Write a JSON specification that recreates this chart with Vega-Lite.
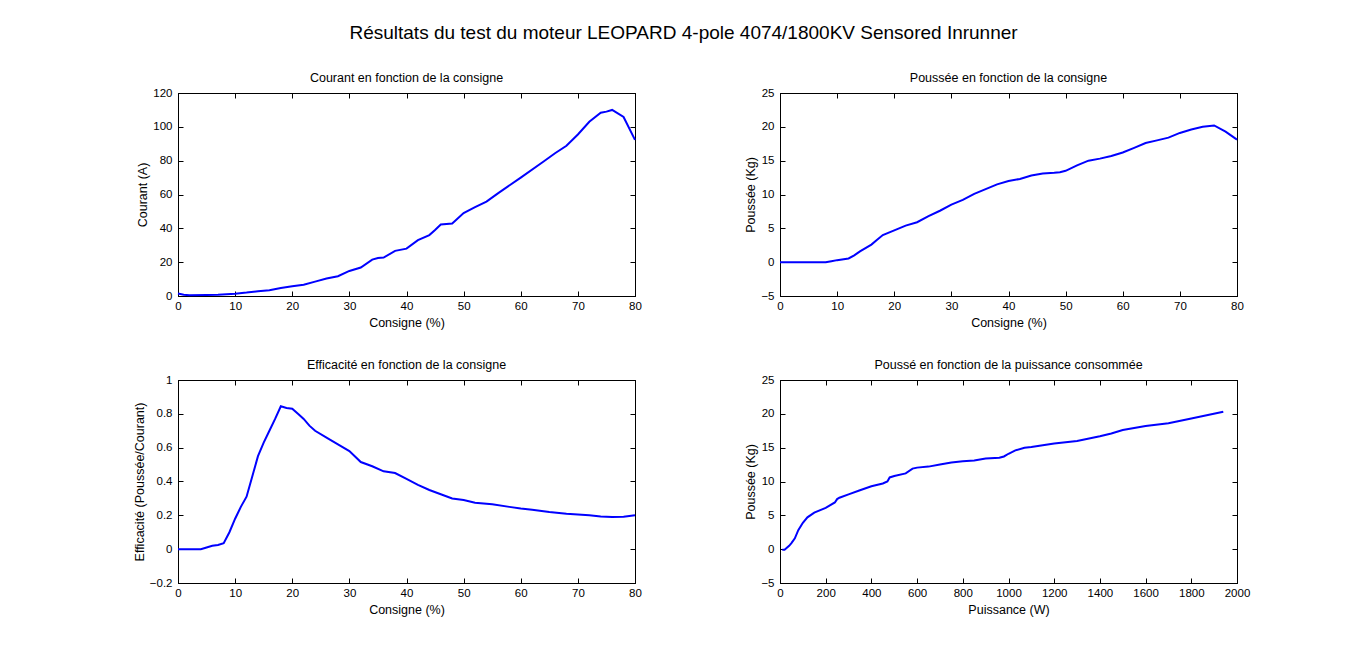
{
  "$schema": "https://vega.github.io/schema/vega-lite/v6.json",
  "background": "white",
  "padding": {"left": 132, "top": 24, "right": 5, "bottom": 5},
  "title": {
    "text": "Résultats du test du moteur LEOPARD 4-pole 4074/1800KV Sensored Inrunner",
    "fontSize": 19,
    "anchor": "middle",
    "dx": -8,
    "offset": 28
  },
  "bounds": "flush",
  "spacing": 287,
  "datasets": {
    "courant": [
      {"consigne": 0, "courant": 1.5}, {"consigne": 1, "courant": 0.7}, {"consigne": 2, "courant": 0.5},
      {"consigne": 5, "courant": 0.6}, {"consigne": 7, "courant": 0.8}, {"consigne": 10, "courant": 1.4},
      {"consigne": 12, "courant": 2}, {"consigne": 14, "courant": 2.8}, {"consigne": 16, "courant": 3.4},
      {"consigne": 18, "courant": 4.7}, {"consigne": 20, "courant": 5.7}, {"consigne": 22, "courant": 6.7},
      {"consigne": 24, "courant": 8.5}, {"consigne": 26, "courant": 10.3}, {"consigne": 28, "courant": 11.7},
      {"consigne": 30, "courant": 14.8}, {"consigne": 32, "courant": 16.8}, {"consigne": 34, "courant": 21.5},
      {"consigne": 35, "courant": 22.5}, {"consigne": 36, "courant": 22.7}, {"consigne": 38, "courant": 26.7},
      {"consigne": 40, "courant": 28}, {"consigne": 42, "courant": 33}, {"consigne": 44, "courant": 36},
      {"consigne": 45, "courant": 39}, {"consigne": 46, "courant": 42.3}, {"consigne": 48, "courant": 42.9},
      {"consigne": 50, "courant": 49}, {"consigne": 52, "courant": 52.5}, {"consigne": 54, "courant": 55.8},
      {"consigne": 56, "courant": 60.7}, {"consigne": 60, "courant": 70}, {"consigne": 64, "courant": 79.5},
      {"consigne": 66, "courant": 84.4}, {"consigne": 68, "courant": 88.8}, {"consigne": 70, "courant": 95.5},
      {"consigne": 72, "courant": 103}, {"consigne": 74, "courant": 108.3}, {"consigne": 75, "courant": 109},
      {"consigne": 76, "courant": 110}, {"consigne": 78, "courant": 105.8}, {"consigne": 80, "courant": 92.3}
    ],
    "poussee": [
      {"consigne": 0, "poussee": 0}, {"consigne": 8, "poussee": 0}, {"consigne": 9, "poussee": 0.15},
      {"consigne": 10, "poussee": 0.3}, {"consigne": 12, "poussee": 0.55}, {"consigne": 13, "poussee": 1},
      {"consigne": 14, "poussee": 1.6}, {"consigne": 16, "poussee": 2.6}, {"consigne": 17, "poussee": 3.3},
      {"consigne": 18, "poussee": 4}, {"consigne": 20, "poussee": 4.7}, {"consigne": 22, "poussee": 5.4},
      {"consigne": 24, "poussee": 5.9}, {"consigne": 26, "poussee": 6.8}, {"consigne": 28, "poussee": 7.6},
      {"consigne": 30, "poussee": 8.5}, {"consigne": 32, "poussee": 9.2}, {"consigne": 34, "poussee": 10.1},
      {"consigne": 36, "poussee": 10.8}, {"consigne": 38, "poussee": 11.5}, {"consigne": 40, "poussee": 12},
      {"consigne": 42, "poussee": 12.3}, {"consigne": 44, "poussee": 12.8}, {"consigne": 46, "poussee": 13.1},
      {"consigne": 48, "poussee": 13.2}, {"consigne": 49, "poussee": 13.3}, {"consigne": 50, "poussee": 13.5},
      {"consigne": 52, "poussee": 14.3}, {"consigne": 54, "poussee": 15}, {"consigne": 56, "poussee": 15.3},
      {"consigne": 58, "poussee": 15.7}, {"consigne": 60, "poussee": 16.2}, {"consigne": 62, "poussee": 16.9},
      {"consigne": 64, "poussee": 17.6}, {"consigne": 66, "poussee": 18}, {"consigne": 68, "poussee": 18.4},
      {"consigne": 70, "poussee": 19.1}, {"consigne": 72, "poussee": 19.6}, {"consigne": 74, "poussee": 20},
      {"consigne": 76, "poussee": 20.2}, {"consigne": 78, "poussee": 19.3}, {"consigne": 80, "poussee": 18.1}
    ],
    "efficacite": [
      {"consigne": 0, "efficacite": 0}, {"consigne": 4, "efficacite": 0}, {"consigne": 5, "efficacite": 0.01},
      {"consigne": 6, "efficacite": 0.02}, {"consigne": 7, "efficacite": 0.025}, {"consigne": 8, "efficacite": 0.035},
      {"consigne": 9, "efficacite": 0.1}, {"consigne": 10, "efficacite": 0.18}, {"consigne": 11, "efficacite": 0.25},
      {"consigne": 12, "efficacite": 0.31}, {"consigne": 13, "efficacite": 0.43}, {"consigne": 14, "efficacite": 0.55},
      {"consigne": 15, "efficacite": 0.63}, {"consigne": 16, "efficacite": 0.7}, {"consigne": 17, "efficacite": 0.77},
      {"consigne": 18, "efficacite": 0.845}, {"consigne": 19, "efficacite": 0.835}, {"consigne": 20, "efficacite": 0.83},
      {"consigne": 21, "efficacite": 0.8}, {"consigne": 22, "efficacite": 0.77}, {"consigne": 23, "efficacite": 0.73},
      {"consigne": 24, "efficacite": 0.7}, {"consigne": 26, "efficacite": 0.66}, {"consigne": 28, "efficacite": 0.62},
      {"consigne": 30, "efficacite": 0.58}, {"consigne": 32, "efficacite": 0.515}, {"consigne": 34, "efficacite": 0.49},
      {"consigne": 36, "efficacite": 0.46}, {"consigne": 38, "efficacite": 0.45}, {"consigne": 40, "efficacite": 0.415},
      {"consigne": 42, "efficacite": 0.38}, {"consigne": 44, "efficacite": 0.35}, {"consigne": 46, "efficacite": 0.325},
      {"consigne": 48, "efficacite": 0.3}, {"consigne": 50, "efficacite": 0.29}, {"consigne": 52, "efficacite": 0.275},
      {"consigne": 55, "efficacite": 0.265}, {"consigne": 58, "efficacite": 0.25}, {"consigne": 60, "efficacite": 0.24},
      {"consigne": 62, "efficacite": 0.233}, {"consigne": 65, "efficacite": 0.22}, {"consigne": 68, "efficacite": 0.21},
      {"consigne": 70, "efficacite": 0.205}, {"consigne": 72, "efficacite": 0.2}, {"consigne": 74, "efficacite": 0.193},
      {"consigne": 76, "efficacite": 0.19}, {"consigne": 78, "efficacite": 0.192}, {"consigne": 80, "efficacite": 0.2}
    ],
    "puissance": [
      {"puissance": 10, "poussee": -0.1}, {"puissance": 20, "poussee": -0.1}, {"puissance": 30, "poussee": 0.2},
      {"puissance": 40, "poussee": 0.5}, {"puissance": 50, "poussee": 0.9}, {"puissance": 65, "poussee": 1.6},
      {"puissance": 80, "poussee": 2.8}, {"puissance": 100, "poussee": 3.9}, {"puissance": 120, "poussee": 4.7},
      {"puissance": 150, "poussee": 5.4}, {"puissance": 200, "poussee": 6.1}, {"puissance": 240, "poussee": 6.9},
      {"puissance": 250, "poussee": 7.4}, {"puissance": 260, "poussee": 7.6}, {"puissance": 300, "poussee": 8.1},
      {"puissance": 350, "poussee": 8.7}, {"puissance": 400, "poussee": 9.3}, {"puissance": 450, "poussee": 9.7},
      {"puissance": 470, "poussee": 10}, {"puissance": 480, "poussee": 10.6}, {"puissance": 500, "poussee": 10.8},
      {"puissance": 550, "poussee": 11.2}, {"puissance": 580, "poussee": 11.9}, {"puissance": 600, "poussee": 12.05},
      {"puissance": 650, "poussee": 12.2}, {"puissance": 700, "poussee": 12.5}, {"puissance": 750, "poussee": 12.8},
      {"puissance": 800, "poussee": 13}, {"puissance": 850, "poussee": 13.1}, {"puissance": 900, "poussee": 13.4},
      {"puissance": 960, "poussee": 13.5}, {"puissance": 980, "poussee": 13.7}, {"puissance": 1000, "poussee": 14.1},
      {"puissance": 1030, "poussee": 14.6}, {"puissance": 1070, "poussee": 15}, {"puissance": 1100, "poussee": 15.1},
      {"puissance": 1200, "poussee": 15.6}, {"puissance": 1300, "poussee": 16}, {"puissance": 1400, "poussee": 16.7},
      {"puissance": 1450, "poussee": 17.1}, {"puissance": 1500, "poussee": 17.6}, {"puissance": 1600, "poussee": 18.2},
      {"puissance": 1700, "poussee": 18.6}, {"puissance": 1800, "poussee": 19.3}, {"puissance": 1940, "poussee": 20.3}
    ]
  },
  "vconcat": [
    {
      "hconcat": [
        {
          "width": 457,
          "height": 203,
          "title": "Courant en fonction de la consigne",
          "data": {"name": "courant"},
          "layer": [
            {
              "mark": {"type": "line", "color": "#0000ff", "strokeWidth": 2},
              "encoding": {
                "x": {"field": "consigne", "type": "quantitative", "scale": {"domain": [0, 80], "nice": false},
                  "axis": {"title": "Consigne (%)", "values": [0, 10, 20, 30, 40, 50, 60, 70, 80]}},
                "y": {"field": "courant", "type": "quantitative", "scale": {"domain": [0, 120], "nice": false, "zero": false},
                  "axis": {"title": "Courant (A)", "values": [0, 20, 40, 60, 80, 100, 120]}}
              }
            },
            {
              "mark": {"type": "line", "opacity": 0},
              "encoding": {
                "x": {"field": "consigne", "type": "quantitative",
                  "axis": {"orient": "top", "title": null, "labels": false, "values": [0, 10, 20, 30, 40, 50, 60, 70, 80]}},
                "y": {"field": "courant", "type": "quantitative",
                  "axis": {"orient": "right", "title": null, "labels": false, "values": [0, 20, 40, 60, 80, 100, 120]}}
              }
            }
          ],
          "resolve": {"axis": {"x": "independent", "y": "independent"}}
        },
        {
          "width": 457,
          "height": 203,
          "title": "Poussée en fonction de la consigne",
          "data": {"name": "poussee"},
          "layer": [
            {
              "mark": {"type": "line", "color": "#0000ff", "strokeWidth": 2},
              "encoding": {
                "x": {"field": "consigne", "type": "quantitative", "scale": {"domain": [0, 80], "nice": false},
                  "axis": {"title": "Consigne (%)", "values": [0, 10, 20, 30, 40, 50, 60, 70, 80]}},
                "y": {"field": "poussee", "type": "quantitative", "scale": {"domain": [-5, 25], "nice": false, "zero": false},
                  "axis": {"title": "Poussée (Kg)", "values": [-5, 0, 5, 10, 15, 20, 25]}}
              }
            },
            {
              "mark": {"type": "line", "opacity": 0},
              "encoding": {
                "x": {"field": "consigne", "type": "quantitative",
                  "axis": {"orient": "top", "title": null, "labels": false, "values": [0, 10, 20, 30, 40, 50, 60, 70, 80]}},
                "y": {"field": "poussee", "type": "quantitative",
                  "axis": {"orient": "right", "title": null, "labels": false, "values": [-5, 0, 5, 10, 15, 20, 25]}}
              }
            }
          ],
          "resolve": {"axis": {"x": "independent", "y": "independent"}}
        }
      ],
      "spacing": 145,
      "bounds": "flush"
    },
    {
      "hconcat": [
        {
          "width": 457,
          "height": 203,
          "title": "Efficacité en fonction de la consigne",
          "data": {"name": "efficacite"},
          "layer": [
            {
              "mark": {"type": "line", "color": "#0000ff", "strokeWidth": 2},
              "encoding": {
                "x": {"field": "consigne", "type": "quantitative", "scale": {"domain": [0, 80], "nice": false},
                  "axis": {"title": "Consigne (%)", "values": [0, 10, 20, 30, 40, 50, 60, 70, 80]}},
                "y": {"field": "efficacite", "type": "quantitative", "scale": {"domain": [-0.2, 1], "nice": false, "zero": false},
                  "axis": {"title": "Efficacité (Poussée/Courant)", "values": [-0.2, 0, 0.2, 0.4, 0.6, 0.8, 1], "format": "~g"}}
              }
            },
            {
              "mark": {"type": "line", "opacity": 0},
              "encoding": {
                "x": {"field": "consigne", "type": "quantitative",
                  "axis": {"orient": "top", "title": null, "labels": false, "values": [0, 10, 20, 30, 40, 50, 60, 70, 80]}},
                "y": {"field": "efficacite", "type": "quantitative",
                  "axis": {"orient": "right", "title": null, "labels": false, "values": [-0.2, 0, 0.2, 0.4, 0.6, 0.8, 1]}}
              }
            }
          ],
          "resolve": {"axis": {"x": "independent", "y": "independent"}}
        },
        {
          "width": 457,
          "height": 203,
          "title": "Poussé en fonction de la puissance consommée",
          "data": {"name": "puissance"},
          "layer": [
            {
              "mark": {"type": "line", "color": "#0000ff", "strokeWidth": 2},
              "encoding": {
                "x": {"field": "puissance", "type": "quantitative", "scale": {"domain": [0, 2000], "nice": false},
                  "axis": {"title": "Puissance (W)", "values": [0, 200, 400, 600, 800, 1000, 1200, 1400, 1600, 1800, 2000], "format": "d"}},
                "y": {"field": "poussee", "type": "quantitative", "scale": {"domain": [-5, 25], "nice": false, "zero": false},
                  "axis": {"title": "Poussée (Kg)", "values": [-5, 0, 5, 10, 15, 20, 25]}}
              }
            },
            {
              "mark": {"type": "line", "opacity": 0},
              "encoding": {
                "x": {"field": "puissance", "type": "quantitative",
                  "axis": {"orient": "top", "title": null, "labels": false, "values": [0, 200, 400, 600, 800, 1000, 1200, 1400, 1600, 1800, 2000]}},
                "y": {"field": "poussee", "type": "quantitative",
                  "axis": {"orient": "right", "title": null, "labels": false, "values": [-5, 0, 5, 10, 15, 20, 25]}}
              }
            }
          ],
          "resolve": {"axis": {"x": "independent", "y": "independent"}}
        }
      ],
      "spacing": 145,
      "bounds": "flush"
    }
  ],
  "config": {
    "font": "Liberation Sans",
    "view": {"stroke": "black", "strokeWidth": 1},
    "axis": {
      "grid": false,
      "domainColor": "black",
      "tickColor": "black",
      "tickSize": -5,
      "labelPadding": 9,
      "labelFontSize": 11.5,
      "labelColor": "black",
      "labelFlush": false,
      "labelOverlap": false,
      "labelBound": false,
      "titleFontSize": 12.5,
      "titleFontWeight": "normal",
      "titleColor": "black",
      "titlePadding": 5
    },
    "axisY": {"labelPadding": 11, "titlePadding": 3},
    "title": {"fontSize": 12.5, "fontWeight": "normal", "color": "black", "offset": 3}
  }
}
